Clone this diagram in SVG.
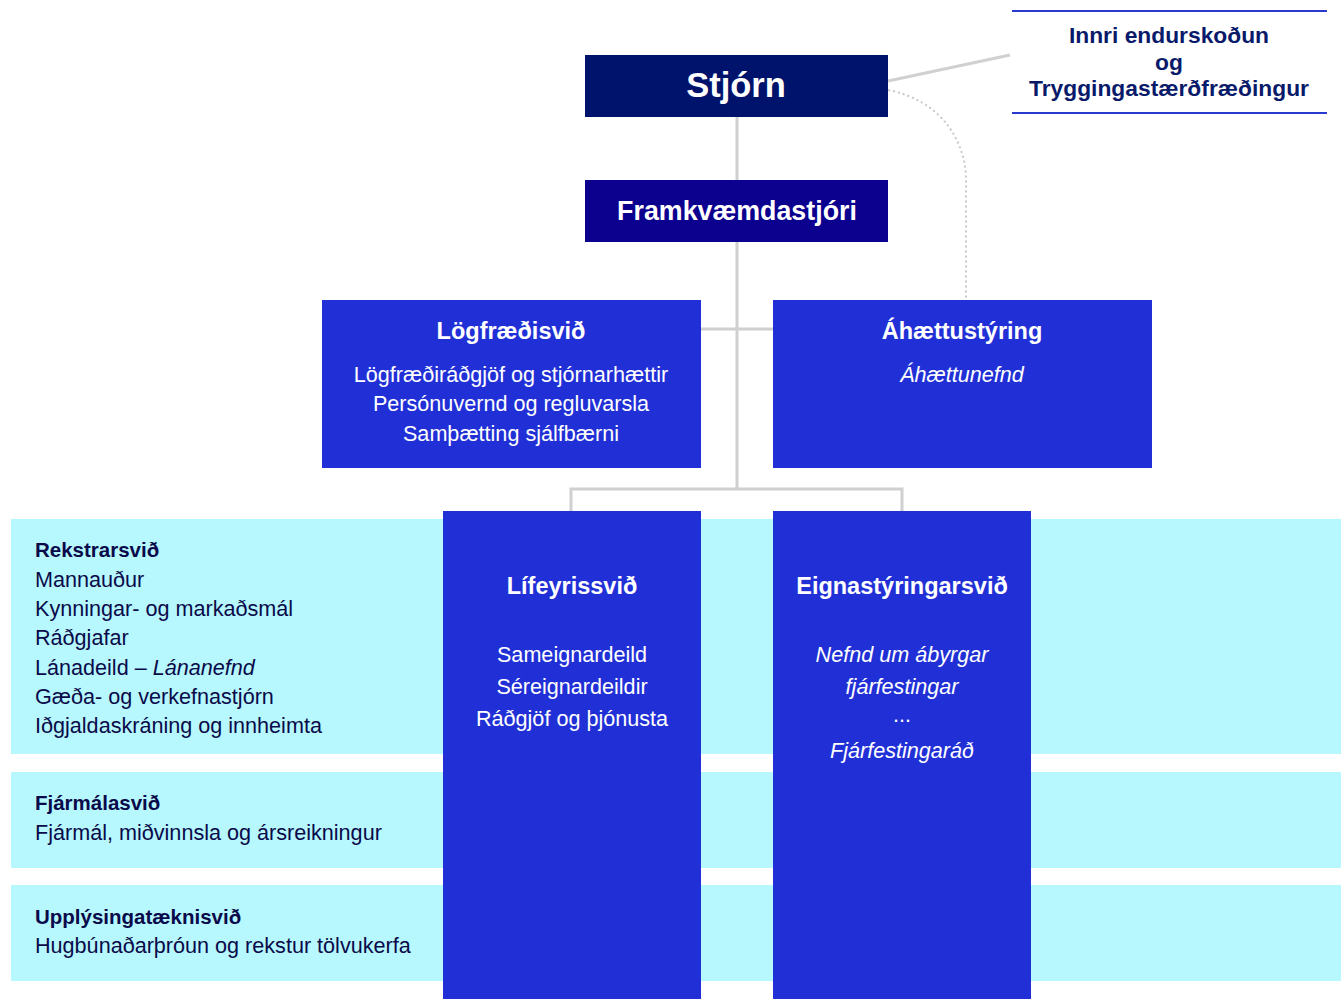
<svg xmlns="http://www.w3.org/2000/svg" width="1341" height="999" viewBox="0 0 1341 999">
<style>
.t{font-family:"Liberation Sans",Arial,sans-serif;}
.w{fill:#fff;text-anchor:middle;}
.b{font-weight:bold;}
.it{font-style:italic;}
.band{fill:#b6f8fd;}
.blue{fill:#2130d6;}
.dk{fill:#0a0a4a;}
.bt{font-size:23.5px;}
.bd{font-size:21.6px;}
.lb{font-size:20.5px;}
.conn{stroke:#d0d0d0;stroke-width:3;fill:none;}
</style>
<rect width="1341" height="999" fill="#fff"/>
<g id="bands">
<rect class="band" x="11" y="519" width="1330" height="235"/>
<rect class="band" x="11" y="772" width="1330" height="96"/>
<rect class="band" x="11" y="885" width="1330" height="96"/>
</g>
<g id="connectors">
<line class="conn" x1="737" y1="117" x2="737" y2="489"/>
<line class="conn" x1="701" y1="329" x2="773" y2="329"/>
<polyline class="conn" points="571,511 571,489 902,489 902,511"/>
<line x1="888" y1="81" x2="1010" y2="55" stroke="#d0d0d0" stroke-width="3"/>
<path d="M888,90 C940,100 966,140 966,180 L966,300" fill="none" stroke="#c8c8c8" stroke-width="2" stroke-dasharray="2,3"/>
</g>
<g id="innri">
<line x1="1012" y1="11" x2="1327" y2="11" stroke="#2a3ad0" stroke-width="2"/>
<line x1="1012" y1="113" x2="1327" y2="113" stroke="#2a3ad0" stroke-width="2"/>
<text class="t b" x="1169" y="43" font-size="22.8" fill="#0a1a6a" text-anchor="middle">Innri endurskoðun</text>
<text class="t b" x="1169" y="70" font-size="22.8" fill="#0a1a6a" text-anchor="middle">og</text>
<text class="t b" x="1169" y="96" font-size="22.8" fill="#0a1a6a" text-anchor="middle">Tryggingastærðfræðingur</text>
</g>
<g id="stjorn">
<rect x="585" y="55" width="303" height="62" fill="#00136c"/>
<text class="t b w" x="736" y="97" font-size="34.5">Stjórn</text>
</g>
<g id="framkv">
<rect x="585" y="180" width="303" height="62" fill="#0c008e"/>
<text class="t b w" x="737" y="220" font-size="26.8">Framkvæmdastjóri</text>
</g>
<g id="logfraedi">
<rect class="blue" x="322" y="300" width="379" height="168"/>
<text class="t b w bt" x="511" y="339">Lögfræðisvið</text>
<text class="t w bd" x="511" y="382">Lögfræðiráðgjöf og stjórnarhættir</text>
<text class="t w bd" x="511" y="411">Persónuvernd og regluvarsla</text>
<text class="t w bd" x="511" y="441">Samþætting sjálfbærni</text>
</g>
<g id="ahaetta">
<rect class="blue" x="773" y="300" width="379" height="168"/>
<text class="t b w bt" x="962" y="339">Áhættustýring</text>
<text class="t w it bd" x="962" y="382">Áhættunefnd</text>
</g>
<g id="lifeyris">
<rect class="blue" x="443" y="511" width="258" height="488"/>
<text class="t b w bt" x="572" y="594">Lífeyrissvið</text>
<text class="t w bd" x="572" y="662">Sameignardeild</text>
<text class="t w bd" x="572" y="694">Séreignardeildir</text>
<text class="t w bd" x="572" y="726">Ráðgjöf og þjónusta</text>
</g>
<g id="eigna">
<rect class="blue" x="773" y="511" width="258" height="488"/>
<text class="t b w bt" x="902" y="594">Eignastýringarsvið</text>
<text class="t w it bd" x="902" y="662">Nefnd um ábyrgar</text>
<text class="t w it bd" x="902" y="694">fjárfestingar</text>
<text class="t w bd" x="902" y="722">...</text>
<text class="t w it bd" x="902" y="758">Fjárfestingaráð</text>
</g>
<g id="rekstur">
<text class="t b dk lb" x="35" y="557">Rekstrarsvið</text>
<text class="t dk bd" x="35" y="587">Mannauður</text>
<text class="t dk bd" x="35" y="616">Kynningar- og markaðsmál</text>
<text class="t dk bd" x="35" y="645">Ráðgjafar</text>
<text class="t dk bd" x="35" y="675">Lánadeild – <tspan class="it">Lánanefnd</tspan></text>
<text class="t dk bd" x="35" y="704">Gæða- og verkefnastjórn</text>
<text class="t dk bd" x="35" y="733">Iðgjaldaskráning og innheimta</text>
</g>
<g id="fjarmal">
<text class="t b dk lb" x="35" y="810">Fjármálasvið</text>
<text class="t dk bd" x="35" y="840">Fjármál, miðvinnsla og ársreikningur</text>
</g>
<g id="upplysinga">
<text class="t b dk lb" x="35" y="924">Upplýsingatæknisvið</text>
<text class="t dk bd" x="35" y="953">Hugbúnaðarþróun og rekstur tölvukerfa</text>
</g>
</svg>
